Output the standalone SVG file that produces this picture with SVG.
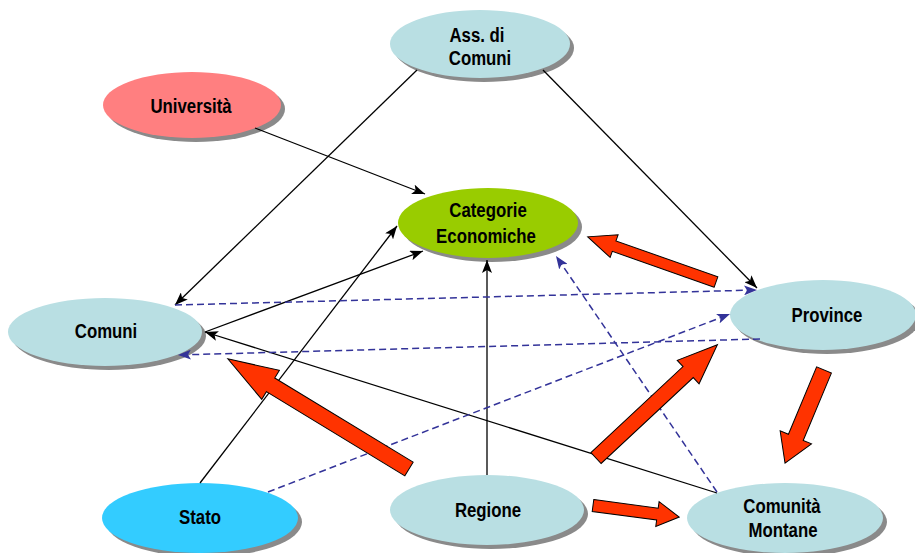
<svg xmlns="http://www.w3.org/2000/svg" width="915" height="553" viewBox="0 0 915 553">
<style>
.sh{fill:#8a8a8a}
.lb{fill:#B9DFE3}
.t{font-family:"Liberation Sans",Arial,sans-serif;font-weight:bold;font-size:21px;fill:#000;text-anchor:middle}
.c{stroke:#000;stroke-width:1.3;fill:none}
.d{stroke:#333399;stroke-width:1.5;fill:none;stroke-dasharray:7,4}
.r{fill:#FF3300;stroke:#000;stroke-width:1}
</style>
<defs>
<marker id="ab" markerUnits="userSpaceOnUse" markerWidth="13" markerHeight="10" refX="13" refY="5" orient="auto"><path d="M0,0 L13,5 L0,10 L3,5 Z" fill="#000"/></marker>
<marker id="au" markerUnits="userSpaceOnUse" markerWidth="13" markerHeight="10" refX="13" refY="5" orient="auto"><path d="M0,0 L13,5 L0,10 L3,5 Z" fill="#333399"/></marker>
</defs>
<rect width="915" height="553" fill="#fff"/>
<g id="n-ass"><ellipse class="sh" cx="484" cy="48" rx="90" ry="34"/><ellipse class="lb" cx="480" cy="44" rx="90" ry="34"/><text class="t" transform="translate(477,42) scale(0.8,1)">Ass. di</text><text class="t" transform="translate(480,65) scale(0.8,1)">Comuni</text></g>
<g id="n-univ"><ellipse class="sh" cx="196" cy="109" rx="89" ry="33"/><ellipse cx="192" cy="105" rx="89" ry="33" fill="#FF7F80"/><text class="t" transform="translate(191,113) scale(0.8,1)">Università</text></g>
<g id="n-cat"><ellipse class="sh" cx="492" cy="227" rx="90" ry="35"/><ellipse cx="488" cy="223" rx="90" ry="35" fill="#99CC00"/><text class="t" transform="translate(488,217) scale(0.8,1)">Categorie</text><text class="t" transform="translate(486,243) scale(0.8,1)">Economiche</text></g>
<g id="n-comuni"><ellipse class="sh" cx="109" cy="336" rx="97" ry="34"/><ellipse class="lb" cx="105" cy="332" rx="97" ry="34"/><text class="t" transform="translate(106,338) scale(0.8,1)">Comuni</text></g>
<g id="n-prov"><ellipse class="sh" cx="827" cy="319" rx="93" ry="35"/><ellipse class="lb" cx="823" cy="315" rx="93" ry="35"/><text class="t" transform="translate(827,322) scale(0.8,1)">Province</text></g>
<g id="n-stato"><ellipse class="sh" cx="204" cy="522" rx="98" ry="35"/><ellipse cx="200" cy="518" rx="98" ry="35" fill="#33CCFF"/><text class="t" transform="translate(200,524) scale(0.8,1)">Stato</text></g>
<g id="n-reg"><ellipse class="sh" cx="491" cy="514" rx="97" ry="35"/><ellipse class="lb" cx="487" cy="510" rx="97" ry="35"/><text class="t" transform="translate(488,517) scale(0.8,1)">Regione</text></g>
<g id="n-cm"><ellipse class="sh" cx="789" cy="522" rx="98" ry="35"/><ellipse class="lb" cx="785" cy="518" rx="98" ry="35"/><text class="t" transform="translate(782,513) scale(0.8,1)">Comunità</text><text class="t" transform="translate(783,537) scale(0.8,1)">Montane</text></g>
<g id="connectors">
<line class="c" x1="417" y1="70" x2="175" y2="305" marker-end="url(#ab)"/>
<line class="c" x1="543" y1="70" x2="757" y2="288" marker-end="url(#ab)"/>
<line class="c" x1="255" y1="128" x2="425" y2="194" marker-end="url(#ab)"/>
<line class="c" x1="205" y1="332" x2="423" y2="251" marker-end="url(#ab)"/>
<line class="c" x1="200" y1="483" x2="397" y2="226" marker-end="url(#ab)"/>
<line class="c" x1="487" y1="475" x2="487" y2="260" marker-end="url(#ab)"/>
<line class="c" x1="717" y1="493" x2="205" y2="332" marker-end="url(#ab)"/>
<line class="d" x1="175" y1="305" x2="757" y2="290" marker-end="url(#au)"/>
<line class="d" x1="760" y1="339" x2="178" y2="355" marker-end="url(#au)"/>
<line class="d" x1="268" y1="492" x2="730" y2="314" marker-end="url(#au)"/>
<line class="d" x1="717" y1="492" x2="556" y2="256" marker-end="url(#au)"/>
<path class="r" transform="translate(409,469) rotate(211.3)" d="M0,-8 L162,-8 L162,-17 L212,0 L162,17 L162,8 L0,8 Z"/>
<path class="r" transform="translate(596,458) rotate(-43)" d="M0,-7.5 L126,-7.5 L126,-16 L166,0 L126,16 L126,7.5 L0,7.5 Z"/>
<path class="r" transform="translate(716,282) rotate(199.4)" d="M0,-5.5 L108,-5.5 L108,-12 L136,0 L108,12 L108,5.5 L0,5.5 Z"/>
<path class="r" transform="translate(824,370) rotate(112.7)" d="M0,-8 L73,-8 L73,-17 L101,0 L73,17 L73,8 L0,8 Z"/>
<path class="r" transform="translate(593,505.5) rotate(7.6)" d="M0,-6 L65,-6 L65,-12.5 L87,0 L65,12.5 L65,6 L0,6 Z"/>
</g>
</svg>
